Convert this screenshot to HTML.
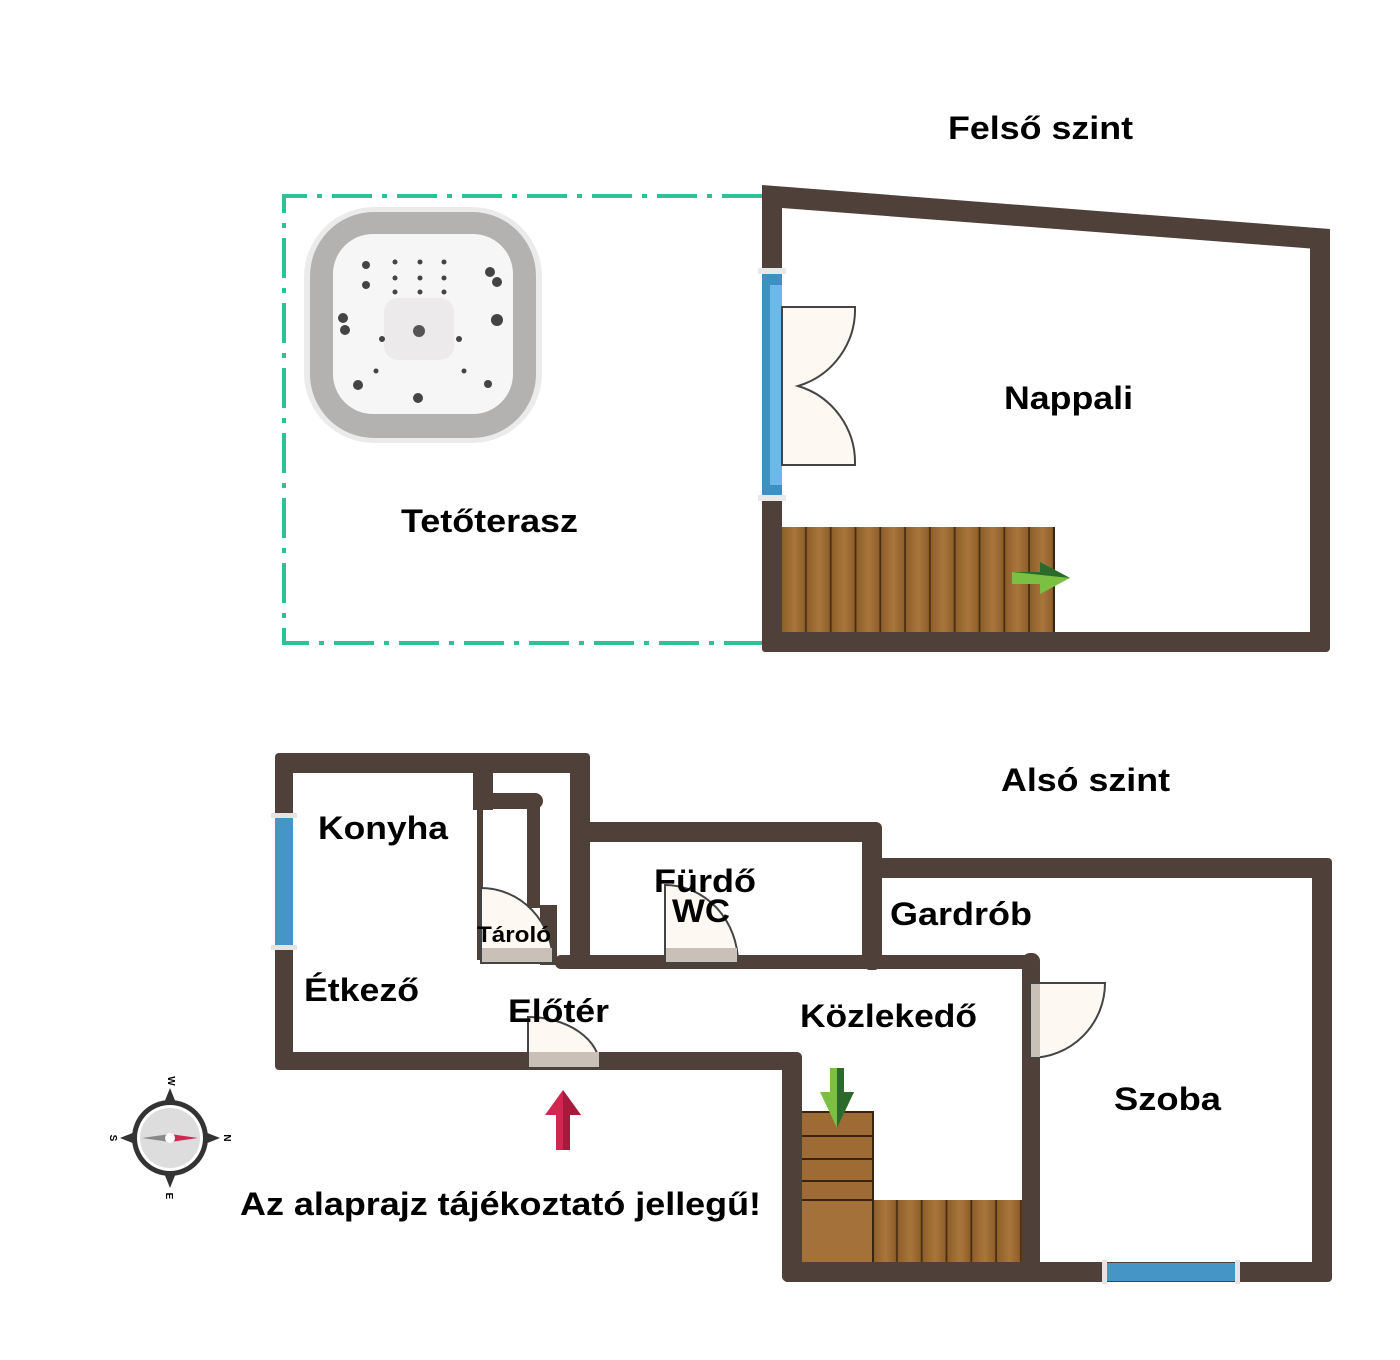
<!DOCTYPE html>
<html><head><meta charset="utf-8"><style>
html,body{margin:0;padding:0;background:#fff}
svg{display:block}
text{font-family:"Liberation Sans",sans-serif;font-weight:bold;fill:#000}
</style></head><body>
<svg width="1400" height="1360" viewBox="0 0 1400 1360" xmlns="http://www.w3.org/2000/svg">
<defs>
<linearGradient id="wood" x1="0" x2="1" y1="0" y2="0">
<stop offset="0" stop-color="#8e5e2a"/><stop offset="0.5" stop-color="#a8763c"/><stop offset="1" stop-color="#8a5a28"/>
</linearGradient>
<pattern id="planksV" x="782" y="0" width="24.8" height="20" patternUnits="userSpaceOnUse">
<rect width="24.8" height="20" fill="url(#wood)"/><rect x="23" width="1.8" height="20" fill="#4a2e12"/>
</pattern>
<pattern id="planksV2" x="873" y="0" width="24.8" height="20" patternUnits="userSpaceOnUse">
<rect width="24.8" height="20" fill="url(#wood)"/><rect x="23" width="1.8" height="20" fill="#4a2e12"/>
</pattern>
</defs>

<!-- Titles -->
<text x="948" y="139" font-size="32" textLength="185" lengthAdjust="spacingAndGlyphs">Felső szint</text>
<text x="1001" y="791" font-size="32" textLength="169" lengthAdjust="spacingAndGlyphs">Alsó szint</text>

<!-- Terrace dashed -->
<path d="M762,196 L284,196 L284,643 L762,643" fill="none" stroke="#2ec195" stroke-width="4" stroke-dasharray="40,10,5,10"/>

<!-- Hot tub -->
<rect x="304" y="207" width="238" height="236" rx="70" fill="#ebebeb"/>
<rect x="310" y="212" width="226" height="226" rx="64" fill="#b4b2b0"/>
<rect x="333" y="234" width="180" height="180" rx="40" fill="#f6f6f6"/>
<rect x="384" y="298" width="70" height="62" rx="14" fill="#eceaea"/>
<circle cx="419" cy="331" r="6" fill="#555"/>
<g fill="#444">
<circle cx="395" cy="262" r="2.5"/><circle cx="420" cy="262" r="2.5"/><circle cx="444" cy="262" r="2.5"/>
<circle cx="395" cy="278" r="2.5"/><circle cx="420" cy="278" r="2.5"/><circle cx="444" cy="278" r="2.5"/>
<circle cx="395" cy="292" r="2.5"/><circle cx="420" cy="292" r="2.5"/><circle cx="444" cy="292" r="2.5"/>
<circle cx="366" cy="265" r="4"/><circle cx="366" cy="285" r="4"/>
<circle cx="490" cy="272" r="5"/><circle cx="497" cy="282" r="5"/>
<circle cx="343" cy="318" r="5"/><circle cx="345" cy="330" r="5"/>
<circle cx="497" cy="320" r="6"/>
<circle cx="358" cy="385" r="5"/><circle cx="418" cy="398" r="5"/><circle cx="488" cy="384" r="4"/>
<circle cx="382" cy="339" r="3"/><circle cx="459" cy="339" r="3"/><circle cx="376" cy="371" r="2.5"/><circle cx="464" cy="371" r="2.5"/>
</g>

<!-- Upper floor stairs -->
<rect x="782" y="527" width="273" height="105" fill="url(#planksV)"/>
<rect x="1053" y="527" width="2" height="105" fill="#3a2410"/>
<polygon points="1012,572 1040,572 1040,562 1070,578 1040,594 1040,584 1012,584" fill="#7cc043"/>
<polygon points="1012,572 1040,572 1040,562 1070,578" fill="#2b6a2b"/>

<!-- Upper floor walls -->
<g fill="#4f4139">
<polygon points="762,185 1330,229 1330,250 782,208 782,272 762,272"/>
<rect x="762" y="498" width="20" height="154" rx="3"/>
<rect x="1310" y="229" width="20" height="423" rx="4"/>
<rect x="762" y="632" width="568" height="20" rx="5"/>
</g>
<rect x="762" y="272" width="20" height="226" fill="#3d8fc4"/>
<rect x="770" y="285" width="12" height="200" fill="#6bb9e6"/>
<rect x="758" y="268" width="28" height="6" fill="#e8e8e8"/>
<rect x="758" y="495" width="28" height="6" fill="#e8e8e8"/>
<path d="M782,307 L855,307 A80,80 0 0 1 798,386 A80,80 0 0 1 855,465 L782,465 Z" fill="#fdf8f2" stroke="#444" stroke-width="2"/>

<text x="1004" y="409" font-size="32" textLength="129" lengthAdjust="spacingAndGlyphs">Nappali</text>
<text x="401" y="532" font-size="32" textLength="177" lengthAdjust="spacingAndGlyphs">Tetőterasz</text>

<!-- Lower floor stairs -->
<rect x="802" y="1112" width="71" height="88" fill="#9e6b34"/>
<g fill="#3a2410">
<rect x="802" y="1111" width="71" height="2"/>
<rect x="802" y="1135" width="71" height="2"/>
<rect x="802" y="1158" width="71" height="2"/>
<rect x="802" y="1180" width="71" height="2"/>
<rect x="802" y="1199" width="71" height="2"/>
<rect x="872" y="1111" width="2" height="151"/>
</g>
<rect x="802" y="1201" width="70" height="61" fill="#a5713b"/>
<rect x="874" y="1200" width="148" height="62" fill="url(#planksV2)"/>
<polygon points="830,1068 844,1068 844,1092 854,1092 837,1128 820,1092 830,1092" fill="#7cc043"/>
<polygon points="837,1068 844,1068 844,1092 854,1092 837,1128" fill="#2b6a2b"/>

<!-- Lower walls -->
<g fill="#4f4139">
<rect x="275" y="753" width="315" height="20" rx="6"/>
<rect x="275" y="753" width="18" height="64" rx="4"/>
<rect x="275" y="946" width="18" height="124" rx="4"/>
<rect x="275" y="1052" width="527" height="18" rx="5"/>
<rect x="570" y="753" width="20" height="215" rx="4"/>
<rect x="473" y="770" width="20" height="40" />
<rect x="473" y="793" width="70" height="16" rx="8"/>
<rect x="477" y="800" width="6" height="160"/>
<rect x="527" y="800" width="13" height="108"/>
<rect x="540" y="905" width="17" height="60"/>
<rect x="555" y="955" width="480" height="14" rx="6"/>
<rect x="570" y="822" width="312" height="20" rx="6"/>
<rect x="862" y="822" width="20" height="148" rx="8"/>
<rect x="862" y="858" width="470" height="20" rx="6"/>
<rect x="1312" y="858" width="20" height="424" rx="4"/>
<rect x="1022" y="953" width="18" height="329" rx="8"/>
<rect x="782" y="1052" width="20" height="230" rx="6"/>
<rect x="782" y="1262" width="550" height="20" rx="6"/>
</g>
<rect x="275" y="817" width="18" height="129" fill="#4596c6"/>
<rect x="271" y="813" width="26" height="5" fill="#e4e4e4"/>
<rect x="271" y="945" width="26" height="5" fill="#e4e4e4"/>
<rect x="1105" y="1263" width="132" height="18" fill="#4596c6"/>
<rect x="1102" y="1260" width="5" height="24" fill="#e4e4e4"/>
<rect x="1235" y="1260" width="5" height="24" fill="#e4e4e4"/>

<g stroke="#444" stroke-width="2" fill="#fdf8f2">
<path d="M481,963 L481,888 A72,75 0 0 1 553,963 Z"/>
<path d="M665,963 L665,885 A73,78 0 0 1 738,963 Z"/>
<path d="M528,1067 L528,1017 A72,50 0 0 1 600,1067 Z"/>
<path d="M1030,983 L1105,983 A75,75 0 0 1 1030,1058 Z"/>
</g>
<g fill="#c9c0b7">
<rect x="482" y="948" width="70" height="14"/>
<rect x="666" y="948" width="71" height="14"/>
<rect x="529" y="1052" width="70" height="15"/>
<rect x="1031" y="984" width="9" height="73"/>
</g>

<polygon points="563,1090 581,1115 570,1115 570,1150 556,1150 556,1115 545,1115" fill="#d2254f"/>
<polygon points="563,1090 581,1115 570,1115 570,1150 563,1150" fill="#a81a3c"/>

<g transform="translate(170,1138)">
<polygon points="0,-50 8,-30 -8,-30" fill="#333"/>
<polygon points="0,50 8,30 -8,30" fill="#333"/>
<polygon points="-50,0 -30,8 -30,-8" fill="#333"/>
<polygon points="50,0 30,8 30,-8" fill="#333"/>
<circle r="38" fill="#333"/>
<circle r="33" fill="#fff"/>
<circle r="30" fill="#ddd"/>
<polygon points="-28,0 0,-4 0,4" fill="#888"/>
<polygon points="28,0 0,-4 0,4" fill="#d2254f"/>
<circle r="5" fill="#fff"/>
<text x="0" y="-55" font-size="10" fill="#666" text-anchor="middle" transform="rotate(90 0 -57)">W</text>
<text x="0" y="62" font-size="10" fill="#666" text-anchor="middle" transform="rotate(90 0 58)">E</text>
<text x="-56" y="4" font-size="10" fill="#666" text-anchor="middle" transform="rotate(90 -56 0)">S</text>
<text x="58" y="4" font-size="10" fill="#666" text-anchor="middle" transform="rotate(90 58 0)">N</text>
</g>

<text x="318" y="839" font-size="32" textLength="130" lengthAdjust="spacingAndGlyphs">Konyha</text>
<text x="304" y="1001" font-size="32" textLength="115" lengthAdjust="spacingAndGlyphs">Étkező</text>
<text x="508" y="1022" font-size="32" textLength="101" lengthAdjust="spacingAndGlyphs">Előtér</text>
<text x="654" y="892" font-size="32" textLength="102" lengthAdjust="spacingAndGlyphs">Fürdő</text>
<text x="672" y="922" font-size="32" textLength="58" lengthAdjust="spacingAndGlyphs">WC</text>
<text x="477" y="942" font-size="22" textLength="74" lengthAdjust="spacingAndGlyphs">Tároló</text>
<text x="890" y="925" font-size="32" textLength="142" lengthAdjust="spacingAndGlyphs">Gardrób</text>
<text x="800" y="1027" font-size="32" textLength="177" lengthAdjust="spacingAndGlyphs">Közlekedő</text>
<text x="1114" y="1110" font-size="32" textLength="107" lengthAdjust="spacingAndGlyphs">Szoba</text>
<text x="240" y="1215" font-size="32" textLength="521" lengthAdjust="spacingAndGlyphs">Az alaprajz tájékoztató jellegű!</text>
</svg>
</body></html>
